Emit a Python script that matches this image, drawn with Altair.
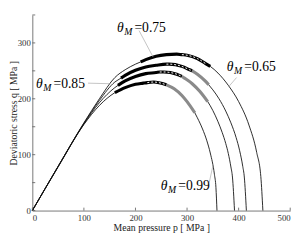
import altair as alt
import pandas as pd

# ---- data ----
X_TICKS = [0, 100, 200, 300, 400, 500]
Y_TICKS = [0, 50, 100, 150, 200, 250, 300, 350]

# curve 1 (outermost) ... curve 4 (innermost): mean pressure p, deviatoric stress q
C1_P = [0, 50, 100, 130, 160, 180, 200, 210, 220, 240, 260, 280, 290, 300, 320, 336, 345, 360, 380, 400, 420, 435, 443, 447]
C1_Q = [0, 79, 157, 200, 238, 252, 262, 266, 270, 276, 279, 280, 279, 278, 272, 263, 258, 246, 224, 195, 153, 104, 61, 0]

C2_P = [0, 50, 100, 130, 160, 172, 180, 200, 220, 240, 260, 265, 290, 305, 310, 320, 335, 342, 350, 362, 375, 385, 395, 402, 408, 411, 415]
C2_Q = [0, 79, 156, 197, 230, 237, 242, 251, 257, 260, 262, 262, 258, 252, 250, 244, 232, 225, 216, 200, 178, 157, 131, 107, 79, 60, 0]

C3_P = [0, 50, 100, 130, 160, 166, 180, 200, 220, 240, 247, 255, 280, 290, 295, 310, 325, 340, 350, 360, 368, 375, 380, 385, 388, 392]
C3_Q = [0, 79, 155, 193, 220, 224, 232, 240, 245, 247, 248, 248, 244, 240, 237, 227, 213, 195, 179, 159, 140, 120, 102, 78, 60, 0]

C4_P = [0, 50, 100, 130, 160, 180, 200, 215, 223, 235, 260, 275, 290, 300, 315, 320, 330, 338, 345, 353, 356, 358]
C4_Q = [0, 78, 154, 188, 211, 220, 226, 228, 229, 230, 225, 218, 206, 195, 175, 166, 146, 126, 103, 65, 41, 0]

# thick highlighted stretches of each curve (p ranges)
BLACK_SEG = {"c1": (210, 345), "c2": (172, 310), "c3": (166, 290), "c4": (160, 260)}
DASH_SEG = {"c1": (290, 336), "c2": (260, 310), "c3": (247, 290), "c4": (223, 260)}
GRAY_SEG = {"c2": (310, 342), "c3": (290, 340), "c4": (260, 315)}

# labels: anchor (left, baseline) in data units
LABEL_VALS = ["=0.75", "=0.65", "=0.85", "=0.99"]
LABEL_P = [164, 377, 7, 249]
LABEL_Q = [320, 250, 220, 37]

# leader lines
LEAD_P1 = [207, 396, 108, 343]
LEAD_Q1 = [322, 238, 228, 50]
LEAD_P2 = [234, 381, 150, 350]
LEAD_Q2 = [275, 222, 227, 80]

# ---- tables ----
rows = []
for name, ps, qs in [("c1", C1_P, C1_Q), ("c2", C2_P, C2_Q), ("c3", C3_P, C3_Q), ("c4", C4_P, C4_Q)]:
    for i, (p, q) in enumerate(zip(ps, qs)):
        rows.append({"curve": name, "seq": i, "p": p, "q": q})
curves = pd.DataFrame(rows)


def segment(ranges):
    parts = []
    for name, (lo, hi) in ranges.items():
        sub = curves[(curves.curve == name) & (curves.p >= lo) & (curves.p <= hi)]
        parts.append(sub)
    return pd.concat(parts)


black_df = segment(BLACK_SEG)
dash_df = segment(DASH_SEG)
gray_df = segment(GRAY_SEG)

labels = pd.DataFrame({"p": LABEL_P, "q": LABEL_Q, "val": LABEL_VALS})
leaders = pd.DataFrame({"p": LEAD_P1, "q": LEAD_Q1, "p2": LEAD_P2, "q2": LEAD_Q2})
xt = pd.DataFrame({"p": X_TICKS})
yt = pd.DataFrame({"q": Y_TICKS})

W, H = 265, 201
SERIF = "Liberation Serif"

xs = alt.Scale(domain=[0, 500], nice=False)
ys = alt.Scale(domain=[0, 350], nice=False)

x_axis = alt.Axis(values=X_TICKS, title="Mean pressure p  [ MPa ]", ticks=False,
                  labelPadding=3, titleY=21, titleBaseline="alphabetic")
y_axis = alt.Axis(values=Y_TICKS, title="Deviatoric stress q  [ MPa ]", ticks=False,
                  labelPadding=2, titleX=-24, titleY=H / 2, titleAngle=270,
                  titleBaseline="top", titleAlign="center")

base_line = alt.Chart(curves).mark_line(color="#111", strokeWidth=0.9, interpolate="monotone").encode(
    x=alt.X("p:Q", scale=xs, axis=x_axis),
    y=alt.Y("q:Q", scale=ys, axis=y_axis),
    detail="curve:N",
    order="seq:Q",
)

def thick(df, color, width, dash=None):
    kw = dict(color=color, strokeWidth=width, interpolate="monotone", strokeCap="butt")
    if dash:
        kw["strokeDash"] = dash
    return alt.Chart(df).mark_line(**kw).encode(
        x=alt.X("p:Q", scale=xs), y=alt.Y("q:Q", scale=ys), detail="curve:N", order="seq:Q")

black = thick(black_df, "black", 3.2)
dashes = thick(dash_df, "white", 1.0, [2, 2])
gray = thick(gray_df, "#8a8a8a", 3.2)

lead = alt.Chart(leaders).mark_rule(color="#aaa", strokeWidth=0.7).encode(
    x=alt.X("p:Q", scale=xs), y=alt.Y("q:Q", scale=ys), x2="p2:Q", y2="q2:Q")

theta = alt.Chart(labels).mark_text(text="θ", font=SERIF, fontStyle="italic", fontSize=14,
                                    align="left", baseline="alphabetic", color="black").encode(
    x=alt.X("p:Q", scale=xs), y=alt.Y("q:Q", scale=ys))
sub_m = alt.Chart(labels).mark_text(text="M", font=SERIF, fontStyle="italic", fontSize=10,
                                    align="left", baseline="alphabetic", color="black", dx=7.5, dy=3).encode(
    x=alt.X("p:Q", scale=xs), y=alt.Y("q:Q", scale=ys))
val = alt.Chart(labels).mark_text(font=SERIF, fontSize=14, align="left", baseline="alphabetic",
                                  color="black", dx=18).encode(
    x=alt.X("p:Q", scale=xs), y=alt.Y("q:Q", scale=ys), text="val:N")

xticks = alt.Chart(xt).mark_rule(color="#555", strokeWidth=0.8).encode(
    x=alt.X("p:Q", scale=xs), y=alt.value(H), y2=alt.value(H - 3))
yticks = alt.Chart(yt).mark_rule(color="#555", strokeWidth=0.8).encode(
    y=alt.Y("q:Q", scale=ys), x=alt.value(0), x2=alt.value(3))

chart = alt.layer(base_line, black, gray, dashes, lead, theta, sub_m, val, xticks, yticks).properties(
    width=W, height=H,
    autosize=alt.AutoSizeParams(type="none"),
    padding={"left": 25, "top": 4, "right": 8, "bottom": 24},
).configure_view(stroke=None).configure_axis(
    grid=False, domainColor="#555", domainWidth=0.8,
    labelFont=SERIF, labelFontSize=9, labelColor="#333",
    titleFont=SERIF, titleFontSize=10, titleColor="#222", titleFontWeight="normal",
)

chart.save("out.html", embed_options={"renderer": "svg", "actions": False})
